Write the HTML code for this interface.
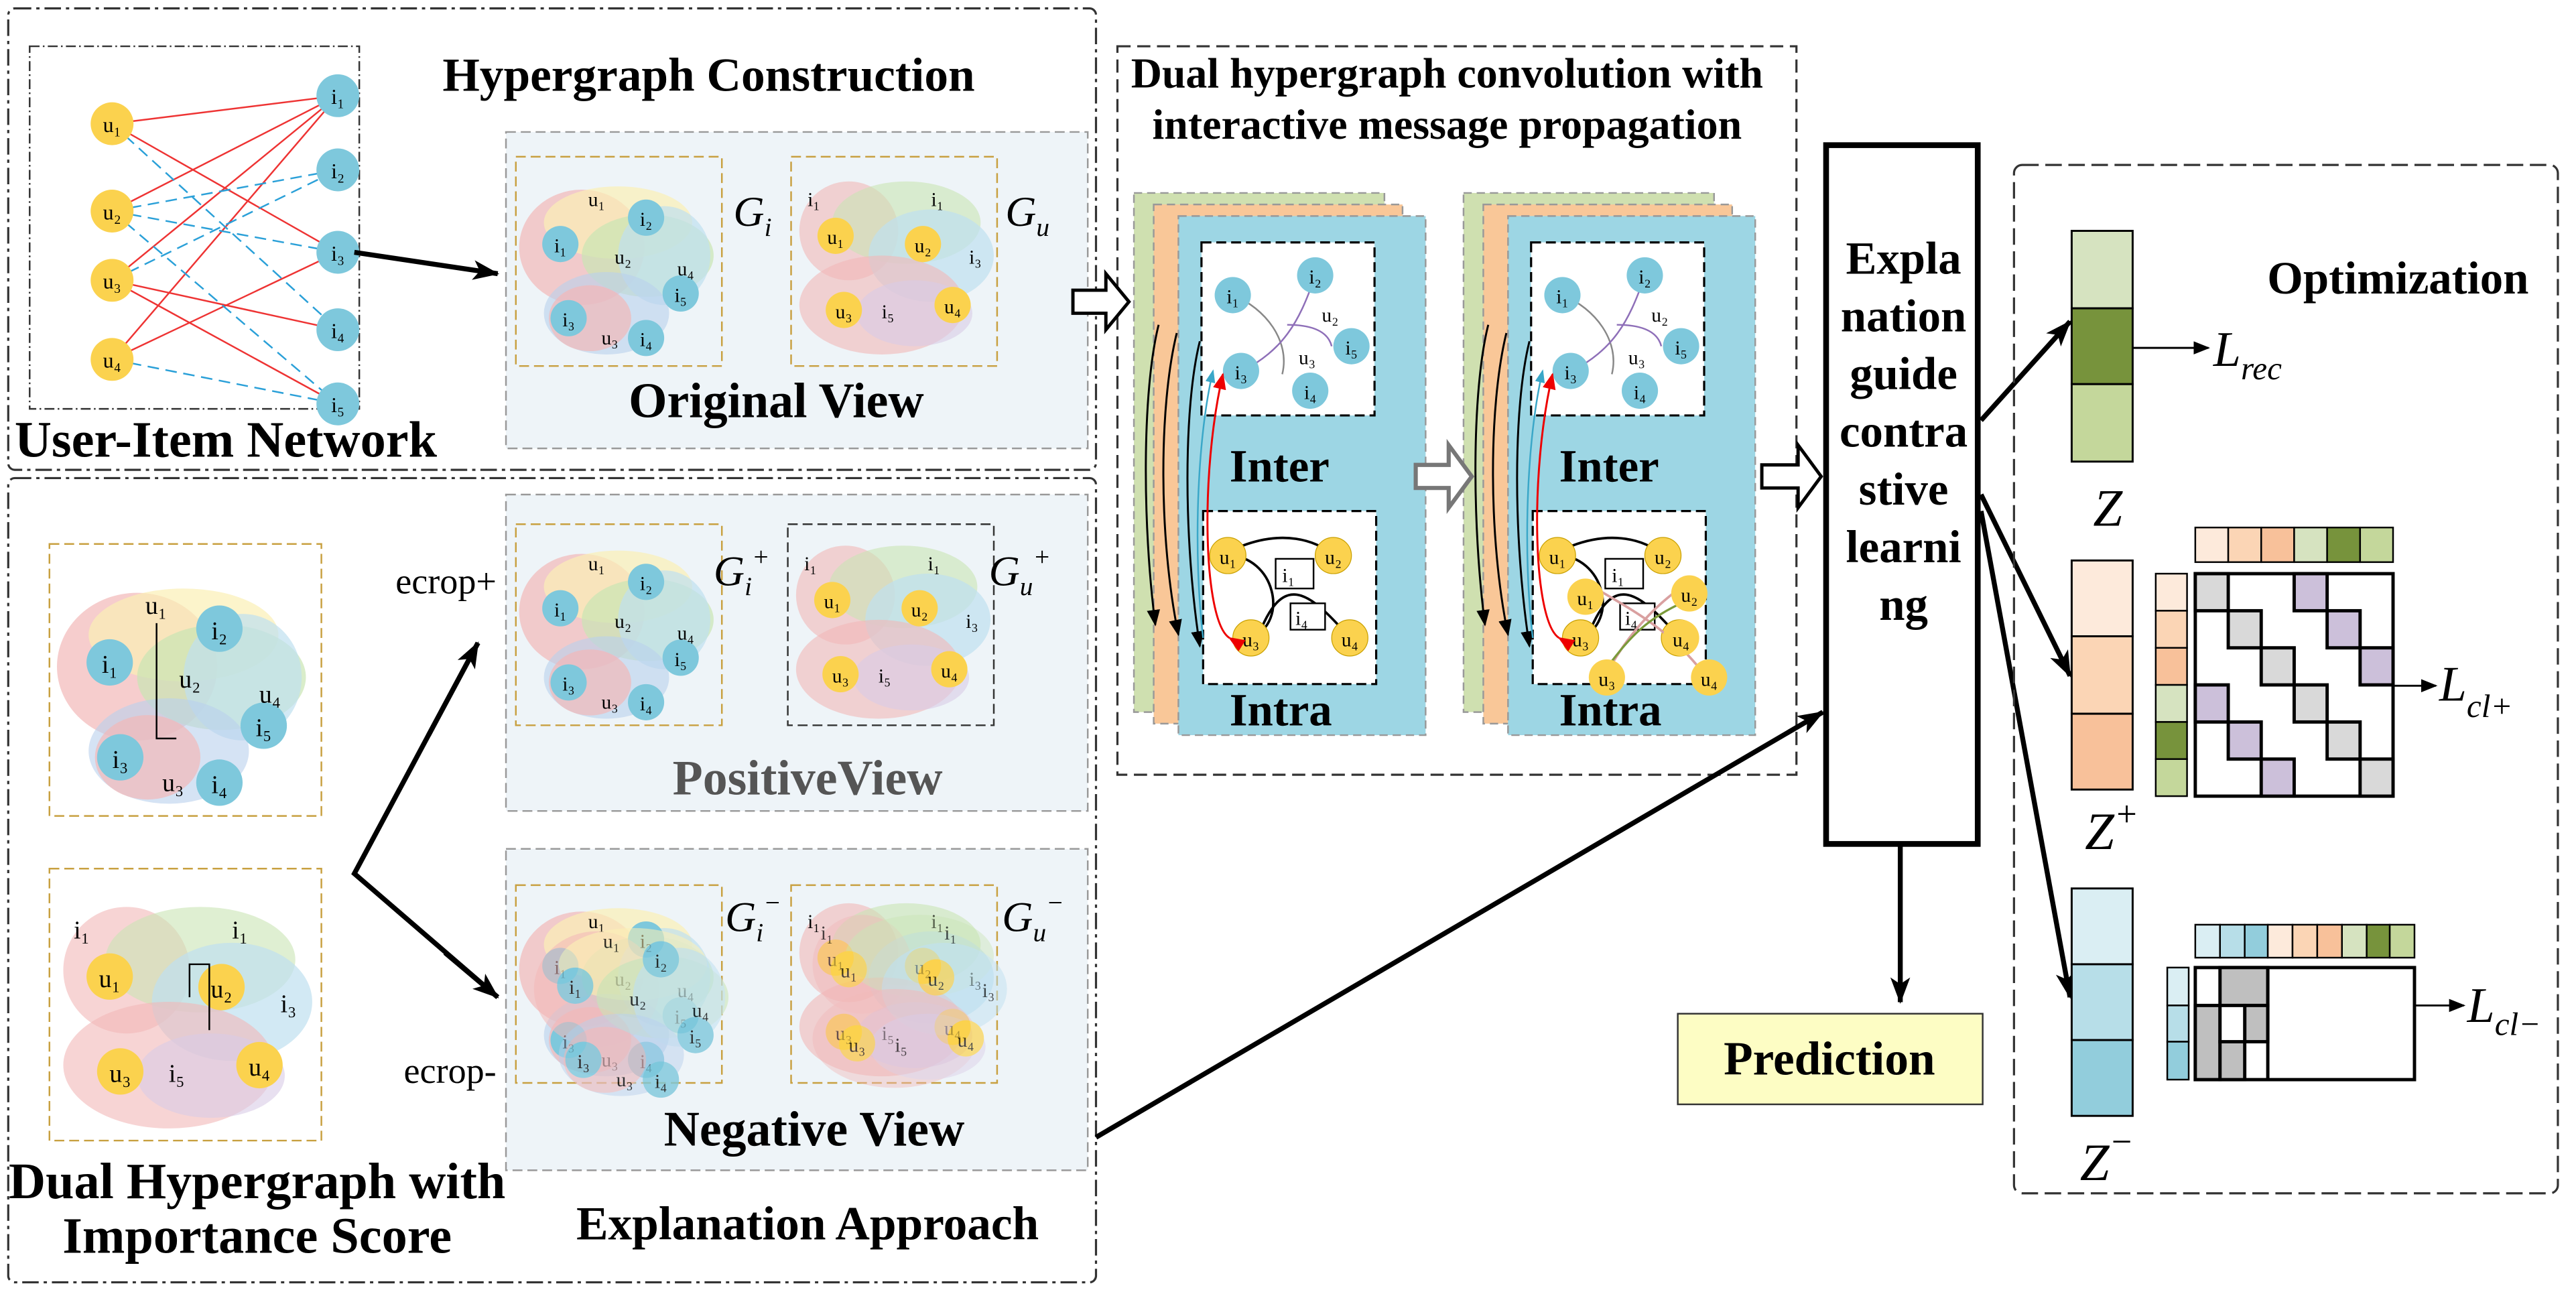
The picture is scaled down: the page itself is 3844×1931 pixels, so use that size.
<!DOCTYPE html>
<html><head><meta charset="utf-8"><style>
html,body{margin:0;padding:0;background:#fff;}
svg{display:block;}
text{font-family:"Liberation Serif",serif;}
.b{font-weight:bold;}
</style></head><body>
<svg width="3844" height="1931" viewBox="0 0 1563 785" xmlns="http://www.w3.org/2000/svg">
<defs>
<marker id="ah" markerWidth="10" markerHeight="8" refX="9" refY="4" orient="auto" markerUnits="userSpaceOnUse"><path d="M0,0 L10,4 L0,8 z" fill="#000"/></marker>
<marker id="ahb" markerWidth="16" markerHeight="12" refX="15" refY="6" orient="auto" markerUnits="userSpaceOnUse"><path d="M0,0 L16,6 L0,12 L4,6 z" fill="#000"/></marker>
<marker id="ahr" markerWidth="10" markerHeight="8" refX="9" refY="4" orient="auto" markerUnits="userSpaceOnUse"><path d="M0,0 L10,4 L0,8 z" fill="#e00"/></marker>
<marker id="ahc" markerWidth="8" markerHeight="6" refX="7" refY="3" orient="auto" markerUnits="userSpaceOnUse"><path d="M0,0 L8,3 L0,6 z" fill="#3aa7c8"/></marker>
<g id="gi">
 <ellipse cx="40" cy="55" rx="38" ry="35" fill="#f2b8b8" opacity="0.7"/>
 <ellipse cx="62" cy="40" rx="45" ry="22" fill="#fbf0b5" opacity="0.7"/>
 <ellipse cx="80" cy="60" rx="40" ry="25" fill="#c9e5b4" opacity="0.7"/>
 <ellipse cx="90" cy="60" rx="28" ry="30" fill="#bfe0f0" opacity="0.7"/>
 <ellipse cx="55" cy="95" rx="38" ry="25" fill="#b9d1ec" opacity="0.6"/>
 <ellipse cx="45" cy="98" rx="25" ry="20" fill="#f2b8b8" opacity="0.7"/>
 <circle cx="27" cy="53" r="11" fill="#7ec8dc"/><text x="27" y="58" font-size="12" text-anchor="middle">i₁</text>
 <circle cx="79" cy="37" r="11" fill="#7ec8dc"/><text x="79" y="42" font-size="12" text-anchor="middle">i₂</text>
 <circle cx="100" cy="83" r="11" fill="#7ec8dc"/><text x="100" y="88" font-size="12" text-anchor="middle">i₅</text>
 <circle cx="32" cy="98" r="11" fill="#7ec8dc"/><text x="32" y="103" font-size="12" text-anchor="middle">i₃</text>
 <circle cx="79" cy="110" r="11" fill="#7ec8dc"/><text x="79" y="115" font-size="12" text-anchor="middle">i₄</text>
 <text x="49" y="30" font-size="12" text-anchor="middle">u₁</text>
 <text x="65" y="65" font-size="12" text-anchor="middle">u₂</text>
 <text x="103" y="72" font-size="12" text-anchor="middle">u₄</text>
 <text x="57" y="114" font-size="12" text-anchor="middle">u₃</text>
</g>
<g id="gu">
 <ellipse cx="35" cy="45" rx="30" ry="30" fill="#f2b8b8" opacity="0.6"/>
 <ellipse cx="70" cy="40" rx="45" ry="25" fill="#c9e5b4" opacity="0.6"/>
 <ellipse cx="85" cy="60" rx="38" ry="28" fill="#bfe0f0" opacity="0.7"/>
 <ellipse cx="55" cy="90" rx="50" ry="30" fill="#f2b8b8" opacity="0.6"/>
 <ellipse cx="75" cy="95" rx="35" ry="20" fill="#d9cce6" opacity="0.6"/>
 <circle cx="27" cy="48" r="11" fill="#fbd24e"/><text x="27" y="53" font-size="12" text-anchor="middle">u₁</text>
 <circle cx="80" cy="53" r="11" fill="#fbd24e"/><text x="80" y="58" font-size="12" text-anchor="middle">u₂</text>
 <circle cx="32" cy="93" r="11" fill="#fbd24e"/><text x="32" y="98" font-size="12" text-anchor="middle">u₃</text>
 <circle cx="98" cy="90" r="11" fill="#fbd24e"/><text x="98" y="95" font-size="12" text-anchor="middle">u₄</text>
 <text x="10" y="30" font-size="12">i₁</text><text x="85" y="30" font-size="12">i₁</text>
 <text x="108" y="65" font-size="12">i₃</text><text x="55" y="98" font-size="12">i₅</text>
</g>
<g id="card">
 <rect x="0" y="0" width="152" height="315" fill="#cfe0b0" stroke="#999" stroke-dasharray="5,3"/>
 <rect x="12" y="7" width="151" height="315" fill="#f9c798" stroke="#999" stroke-dasharray="5,3"/>
 <rect x="27" y="14" width="150" height="315" fill="#9dd6e4" stroke="#999" stroke-dasharray="5,3"/>
 <rect x="41" y="30" width="105" height="105" fill="#fff" stroke="#000" stroke-dasharray="6,3" stroke-width="1.3"/>
 <rect x="42" y="193" width="105" height="105" fill="#fff" stroke="#000" stroke-dasharray="6,3" stroke-width="1.3"/>
 <path d="M60,62 C80,70 95,90 90,110" fill="none" stroke="#888" stroke-width="1"/>
 <path d="M110,50 C100,80 90,95 66,108" fill="none" stroke="#8e6fb8" stroke-width="1"/>
 <path d="M93,80 C110,80 118,85 120,93" fill="none" stroke="#8e6fb8" stroke-width="1"/>
 <circle cx="60" cy="62" r="11" fill="#7ec8dc"/><text x="60" y="67" font-size="12" text-anchor="middle">i₁</text>
 <circle cx="110" cy="50" r="11" fill="#7ec8dc"/><text x="110" y="55" font-size="12" text-anchor="middle">i₂</text>
 <circle cx="132" cy="93" r="11" fill="#7ec8dc"/><text x="132" y="98" font-size="12" text-anchor="middle">i₅</text>
 <circle cx="65" cy="108" r="11" fill="#7ec8dc"/><text x="65" y="113" font-size="12" text-anchor="middle">i₃</text>
 <circle cx="107" cy="120" r="11" fill="#7ec8dc"/><text x="107" y="125" font-size="12" text-anchor="middle">i₄</text>
 <text x="114" y="78" font-size="12">u₂</text><text x="100" y="104" font-size="12">u₃</text>
 <text x="58" y="175" font-size="28" class="b">Inter</text>
 <path d="M57,220 C85,220 95,260 71,270 M75,270 C90,230 105,240 131,270 M66,214 C90,205 110,210 121,220" fill="none" stroke="#000" stroke-width="1.5"/>
 <rect x="86" y="222" width="23" height="18" fill="#fff" stroke="#000"/><text x="90" y="236" font-size="12">i₁</text>
 <rect x="95" y="249" width="21" height="16" fill="#fff" stroke="#000"/><text x="98" y="262" font-size="12">i₄</text>
 <circle cx="57" cy="220" r="11" fill="#fbd24e" stroke="#c9a000" stroke-width="0.5"/><text x="57" y="225" font-size="12" text-anchor="middle">u₁</text>
 <circle cx="121" cy="220" r="11" fill="#fbd24e" stroke="#c9a000" stroke-width="0.5"/><text x="121" y="225" font-size="12" text-anchor="middle">u₂</text>
 <circle cx="71" cy="270" r="11" fill="#fbd24e" stroke="#c9a000" stroke-width="0.5"/><text x="71" y="275" font-size="12" text-anchor="middle">u₃</text>
 <circle cx="131" cy="270" r="11" fill="#fbd24e" stroke="#c9a000" stroke-width="0.5"/><text x="131" y="275" font-size="12" text-anchor="middle">u₄</text>
 <text x="58" y="323" font-size="28" class="b">Intra</text>
 <path d="M15,80 C5,120 5,200 13,262" fill="none" stroke="#000" stroke-width="1.2" marker-end="url(#ah)"/>
 <path d="M26,85 C15,130 15,210 27,268" fill="none" stroke="#000" stroke-width="1.2" marker-end="url(#ah)"/>
 <path d="M40,90 C30,130 30,210 40,275" fill="none" stroke="#000" stroke-width="1.2" marker-end="url(#ah)"/>
 <path d="M42,270 C36,220 38,150 48,108" fill="none" stroke="#3aa7c8" stroke-width="1" marker-end="url(#ahc)"/>
 <path d="M58,270 C42,260 40,170 54,110" fill="none" stroke="#e00" stroke-width="1.2" marker-end="url(#ahr)" marker-start="url(#ahr)"/>
</g>
</defs>

<!-- top-left box -->
<rect x="5" y="5" width="660" height="280" fill="none" stroke="#333" stroke-width="1.3" stroke-dasharray="10,3,2,3" rx="4"/>
<rect x="18" y="28" width="200" height="220" fill="none" stroke="#333" stroke-dasharray="6,2,1,2"/>
<g stroke-width="1">
<line x1="68" y1="75" x2="205" y2="58" stroke="#e33"/>
<line x1="68" y1="75" x2="205" y2="153" stroke="#e33"/>
<line x1="68" y1="128" x2="205" y2="58" stroke="#e33"/>
<line x1="68" y1="170" x2="205" y2="58" stroke="#e33"/>
<line x1="68" y1="170" x2="205" y2="200" stroke="#e33"/>
<line x1="68" y1="170" x2="205" y2="245" stroke="#e33"/>
<line x1="68" y1="218" x2="205" y2="58" stroke="#e33"/>
<line x1="68" y1="218" x2="205" y2="153" stroke="#e33"/>
<line x1="68" y1="75" x2="205" y2="200" stroke="#2aa0d8" stroke-dasharray="7,4"/>
<line x1="68" y1="128" x2="205" y2="103" stroke="#2aa0d8" stroke-dasharray="7,4"/>
<line x1="68" y1="128" x2="205" y2="153" stroke="#2aa0d8" stroke-dasharray="7,4"/>
<line x1="68" y1="128" x2="205" y2="245" stroke="#2aa0d8" stroke-dasharray="7,4"/>
<line x1="68" y1="170" x2="205" y2="103" stroke="#2aa0d8" stroke-dasharray="7,4"/>
<line x1="68" y1="218" x2="205" y2="245" stroke="#2aa0d8" stroke-dasharray="7,4"/>
</g>
<g font-size="13" text-anchor="middle">
<circle cx="68" cy="75" r="13" fill="#fbd24e"/><text x="68" y="80">u₁</text>
<circle cx="68" cy="128" r="13" fill="#fbd24e"/><text x="68" y="133">u₂</text>
<circle cx="68" cy="170" r="13" fill="#fbd24e"/><text x="68" y="175">u₃</text>
<circle cx="68" cy="218" r="13" fill="#fbd24e"/><text x="68" y="223">u₄</text>
<circle cx="205" cy="58" r="13" fill="#7ec8dc"/><text x="205" y="63">i₁</text>
<circle cx="205" cy="103" r="13" fill="#7ec8dc"/><text x="205" y="108">i₂</text>
<circle cx="205" cy="153" r="13" fill="#7ec8dc"/><text x="205" y="158">i₃</text>
<circle cx="205" cy="200" r="13" fill="#7ec8dc"/><text x="205" y="205">i₄</text>
<circle cx="205" cy="245" r="13" fill="#7ec8dc"/><text x="205" y="250">i₅</text>
</g>
<text x="137" y="277" font-size="31" class="b" text-anchor="middle">User-Item Network</text>
<text x="430" y="55" font-size="29" class="b" text-anchor="middle">Hypergraph Construction</text>
<line x1="215" y1="153" x2="302" y2="166" stroke="#000" stroke-width="3" marker-end="url(#ahb)"/>

<rect x="307" y="80" width="353" height="192" fill="#eef4f8" stroke="#999" stroke-dasharray="6,3"/>
<rect x="313" y="95" width="125" height="127" fill="none" stroke="#c8a040" stroke-dasharray="6,3"/>
<rect x="480" y="95" width="125" height="127" fill="none" stroke="#c8a040" stroke-dasharray="6,3"/>
<use href="#gi" x="313" y="95"/><use href="#gu" x="480" y="95"/>
<text x="445" y="137" font-size="26" font-style="italic">G<tspan font-size="16" dy="6">i</tspan></text>
<text x="610" y="137" font-size="26" font-style="italic">G<tspan font-size="16" dy="6">u</tspan></text>
<text x="471" y="253" font-size="30" class="b" text-anchor="middle">Original View</text>

<!-- bottom-left box -->
<rect x="5" y="290" width="660" height="488" fill="none" stroke="#333" stroke-width="1.3" stroke-dasharray="10,3,2,3" rx="4"/>
<rect x="30" y="330" width="165" height="165" fill="none" stroke="#c8a040" stroke-dasharray="6,3"/>
<rect x="30" y="527" width="165" height="165" fill="none" stroke="#c8a040" stroke-dasharray="6,3"/>
<use href="#gi" transform="translate(32,334) scale(1.28)"/>
<use href="#gu" transform="translate(32,531) scale(1.28)"/>
<path d="M95,378 v70 h12 M115,605 v-20 h12 v40" fill="none" stroke="#000" stroke-width="1"/>
<text x="240" y="360" font-size="22">ecrop+</text>
<text x="245" y="657" font-size="22">ecrop-</text>
<polyline points="290,390 215,530 302,605" fill="none" stroke="#000" stroke-width="3"/>
<line x1="260" y1="446" x2="290" y2="390" stroke="#000" stroke-width="3" marker-end="url(#ahb)"/>
<line x1="270" y1="578" x2="302" y2="605" stroke="#000" stroke-width="3" marker-end="url(#ahb)"/>
<text x="156" y="727" font-size="31" class="b" text-anchor="middle">Dual Hypergraph with</text>
<text x="156" y="760" font-size="31" class="b" text-anchor="middle">Importance Score</text>

<rect x="307" y="300" width="353" height="192" fill="#eef4f8" stroke="#999" stroke-dasharray="6,3"/>
<rect x="313" y="318" width="125" height="122" fill="none" stroke="#c8a040" stroke-dasharray="6,3"/>
<rect x="478" y="318" width="125" height="122" fill="none" stroke="#333" stroke-dasharray="6,3"/>
<use href="#gi" x="313" y="316"/><use href="#gu" x="478" y="316"/>
<text x="433" y="355" font-size="26" font-style="italic">G<tspan font-size="16" dy="6">i</tspan><tspan font-size="16" dy="-18">+</tspan></text>
<text x="600" y="355" font-size="26" font-style="italic">G<tspan font-size="16" dy="6">u</tspan><tspan font-size="16" dy="-18">+</tspan></text>
<text x="490" y="482" font-size="30" class="b" fill="#555" text-anchor="middle">PositiveView</text>

<rect x="307" y="515" width="353" height="195" fill="#eef4f8" stroke="#999" stroke-dasharray="6,3"/>
<rect x="313" y="537" width="125" height="120" fill="none" stroke="#c8a040" stroke-dasharray="6,3"/>
<rect x="480" y="537" width="125" height="120" fill="none" stroke="#c8a040" stroke-dasharray="6,3"/>
<use href="#gi" x="313" y="533"/><use href="#gi" x="322" y="545" opacity="0.8"/>
<use href="#gu" x="480" y="533"/><use href="#gu" x="488" y="540" opacity="0.7"/>
<text x="440" y="565" font-size="26" font-style="italic">G<tspan font-size="16" dy="6">i</tspan><tspan font-size="16" dy="-18">−</tspan></text>
<text x="608" y="565" font-size="26" font-style="italic">G<tspan font-size="16" dy="6">u</tspan><tspan font-size="16" dy="-18">−</tspan></text>
<text x="494" y="695" font-size="30" class="b" text-anchor="middle">Negative View</text>
<text x="490" y="752" font-size="29" class="b" text-anchor="middle">Explanation Approach</text>

<!-- middle -->
<rect x="678" y="28" width="412" height="442" fill="none" stroke="#333" stroke-width="1.3" stroke-dasharray="8,4"/>
<text x="878" y="53" font-size="26" class="b" text-anchor="middle">Dual hypergraph convolution with</text>
<text x="878" y="84" font-size="26" class="b" text-anchor="middle">interactive message propagation</text>
<use href="#card" x="688" y="117"/>
<use href="#card" x="888" y="117"/>
<g font-size="12" text-anchor="middle">
<path d="M965,355 C990,370 1010,380 1030,404 M1022,355 C1000,370 985,390 975,408" fill="none" stroke="#d9a0a0" stroke-width="1.5"/>
<path d="M1022,365 C1000,375 990,385 975,405" fill="none" stroke="#7a9a3a" stroke-width="1.3"/>
<circle cx="962" cy="362" r="11" fill="#fbd24e"/><text x="962" y="367">u₁</text>
<circle cx="1025" cy="360" r="11" fill="#fbd24e"/><text x="1025" y="365">u₂</text>
<circle cx="1020" cy="387" r="11" fill="#fbd24e"/><text x="1020" y="392">u₄</text>
<circle cx="975" cy="411" r="11" fill="#fbd24e"/><text x="975" y="416">u₃</text>
<circle cx="1037" cy="411" r="11" fill="#fbd24e"/><text x="1037" y="416">u₄</text>
</g>
<g fill="#fff" stroke="#777" stroke-width="2.5">
<path d="M859,282 h20 v-12 l14,19 l-14,19 v-12 h-20 z"/>
<path d="M1069,282 h22 v-12 l14,19 l-14,19 v-12 h-22 z" stroke="#000" stroke-width="2"/>
<path d="M651,176 h20 v-10 l14,17 l-14,17 v-10 h-20 z" stroke="#000" stroke-width="2"/>
</g>

<!-- explanation box -->
<rect x="1108" y="88" width="92" height="424" fill="#fff" stroke="#000" stroke-width="3.5"/>
<g font-size="28" class="b" text-anchor="middle">
<text x="1155" y="166">Expla</text><text x="1155" y="201">nation</text><text x="1155" y="236">guide</text>
<text x="1155" y="271">contra</text><text x="1155" y="306">stive</text><text x="1155" y="341">learni</text><text x="1155" y="376">ng</text>
</g>
<line x1="1153" y1="512" x2="1153" y2="608" stroke="#000" stroke-width="3" marker-end="url(#ahb)"/>
<rect x="1018" y="615" width="185" height="55" fill="#fdfdc4" stroke="#333"/>
<text x="1110" y="652" font-size="29" class="b" text-anchor="middle">Prediction</text>
<line x1="665" y1="690" x2="1106" y2="432" stroke="#000" stroke-width="3" marker-end="url(#ahb)"/>
<line x1="1202" y1="255" x2="1256" y2="195" stroke="#000" stroke-width="3" marker-end="url(#ahb)"/>
<line x1="1202" y1="300" x2="1256" y2="410" stroke="#000" stroke-width="3" marker-end="url(#ahb)"/>
<line x1="1202" y1="310" x2="1256" y2="605" stroke="#000" stroke-width="3" marker-end="url(#ahb)"/>

<!-- optimization -->
<rect x="1222" y="100" width="330" height="624" fill="none" stroke="#333" stroke-width="1.3" stroke-dasharray="10,4" rx="5"/>
<text x="1455" y="178" font-size="28" class="b" text-anchor="middle">Optimization</text>
<g stroke="#000" stroke-width="1.2">
<rect x="1257" y="140" width="37" height="47" fill="#d6e3c0"/>
<rect x="1257" y="187" width="37" height="46" fill="#77933c"/>
<rect x="1257" y="233" width="37" height="47" fill="#c4d79b"/>
<rect x="1257" y="340" width="37" height="46" fill="#fdeadb"/>
<rect x="1257" y="386" width="37" height="47" fill="#fbd5b5"/>
<rect x="1257" y="433" width="37" height="46" fill="#f8c19a"/>
<rect x="1257" y="539" width="37" height="46" fill="#daeef3"/>
<rect x="1257" y="585" width="37" height="46" fill="#b7dee8"/>
<rect x="1257" y="631" width="37" height="46" fill="#92cddc"/>
</g>
<line x1="1294" y1="211" x2="1340" y2="211" stroke="#000" stroke-width="1.2" marker-end="url(#ah)"/>
<text x="1343" y="222" font-size="30" font-style="italic">L<tspan font-size="20" dy="8">rec</tspan></text>
<text x="1270" y="319" font-size="32" font-style="italic">Z</text>
<text x="1265" y="515" font-size="32" font-style="italic">Z<tspan font-size="22" dy="-14">+</tspan></text>
<text x="1262" y="716" font-size="32" font-style="italic">Z<tspan font-size="22" dy="-16">−</tspan></text>

<g stroke="#000" stroke-width="1">
<rect x="1332" y="320" width="20" height="21" fill="#fdeadb"/><rect x="1352" y="320" width="20" height="21" fill="#fbd5b5"/>
<rect x="1372" y="320" width="20" height="21" fill="#f8c19a"/><rect x="1392" y="320" width="20" height="21" fill="#d6e3c0"/>
<rect x="1412" y="320" width="20" height="21" fill="#77933c"/><rect x="1432" y="320" width="20" height="21" fill="#c4d79b"/>
<rect x="1308" y="348" width="19" height="22.5" fill="#fdeadb"/><rect x="1308" y="370.5" width="19" height="22.5" fill="#fbd5b5"/>
<rect x="1308" y="393" width="19" height="22.5" fill="#f8c19a"/><rect x="1308" y="415.5" width="19" height="22.5" fill="#d6e3c0"/>
<rect x="1308" y="438" width="19" height="22.5" fill="#77933c"/><rect x="1308" y="460.5" width="19" height="22.5" fill="#c4d79b"/>
</g>
<g stroke="#000" stroke-width="2">
<rect x="1332" y="348" width="120" height="135" fill="#fff"/>
<rect x="1332" y="348" width="20" height="22.5" fill="#d9d9d9"/>
<rect x="1352" y="370.5" width="20" height="22.5" fill="#d9d9d9"/>
<rect x="1372" y="393" width="20" height="22.5" fill="#d9d9d9"/>
<rect x="1392" y="415.5" width="20" height="22.5" fill="#d9d9d9"/>
<rect x="1412" y="438" width="20" height="22.5" fill="#d9d9d9"/>
<rect x="1432" y="460.5" width="20" height="22.5" fill="#d9d9d9"/>
<rect x="1392" y="348" width="20" height="22.5" fill="#ccc0da"/>
<rect x="1412" y="370.5" width="20" height="22.5" fill="#ccc0da"/>
<rect x="1432" y="393" width="20" height="22.5" fill="#ccc0da"/>
<rect x="1332" y="415.5" width="20" height="22.5" fill="#ccc0da"/>
<rect x="1352" y="438" width="20" height="22.5" fill="#ccc0da"/>
<rect x="1372" y="460.5" width="20" height="22.5" fill="#ccc0da"/>
</g>
<line x1="1452" y1="416" x2="1478" y2="416" stroke="#000" stroke-width="1.2" marker-end="url(#ah)"/>
<text x="1480" y="425" font-size="30" font-style="italic">L<tspan font-size="20" dy="10">cl+</tspan></text>

<g stroke="#000" stroke-width="1">
<rect x="1332" y="561" width="15" height="20" fill="#daeef3"/><rect x="1347" y="561" width="15" height="20" fill="#b7dee8"/>
<rect x="1362" y="561" width="14" height="20" fill="#92cddc"/><rect x="1376" y="561" width="15" height="20" fill="#fdeadb"/>
<rect x="1391" y="561" width="15" height="20" fill="#fbd5b5"/><rect x="1406" y="561" width="15" height="20" fill="#f8c19a"/>
<rect x="1421" y="561" width="15" height="20" fill="#d6e3c0"/><rect x="1436" y="561" width="14" height="20" fill="#77933c"/>
<rect x="1450" y="561" width="15" height="20" fill="#c4d79b"/>
<rect x="1315" y="587" width="13" height="23" fill="#daeef3"/><rect x="1315" y="610" width="13" height="22" fill="#b7dee8"/>
<rect x="1315" y="632" width="13" height="23" fill="#92cddc"/>
</g>
<g stroke="#000" stroke-width="2">
<rect x="1332" y="587" width="133" height="68" fill="#fff"/>
<rect x="1347" y="587" width="29" height="23" fill="#bfbfbf"/>
<rect x="1362" y="610" width="14" height="22" fill="#bfbfbf"/>
<rect x="1332" y="610" width="15" height="45" fill="#bfbfbf"/>
<rect x="1347" y="632" width="15" height="23" fill="#bfbfbf"/>
<rect x="1347" y="610" width="15" height="22" fill="#fff"/>
<line x1="1376" y1="587" x2="1376" y2="655"/>
</g>
<line x1="1465" y1="610" x2="1495" y2="610" stroke="#000" stroke-width="1.2" marker-end="url(#ah)"/>
<text x="1497" y="620" font-size="30" font-style="italic">L<tspan font-size="20" dy="8">cl−</tspan></text>
</svg>
</body></html>
